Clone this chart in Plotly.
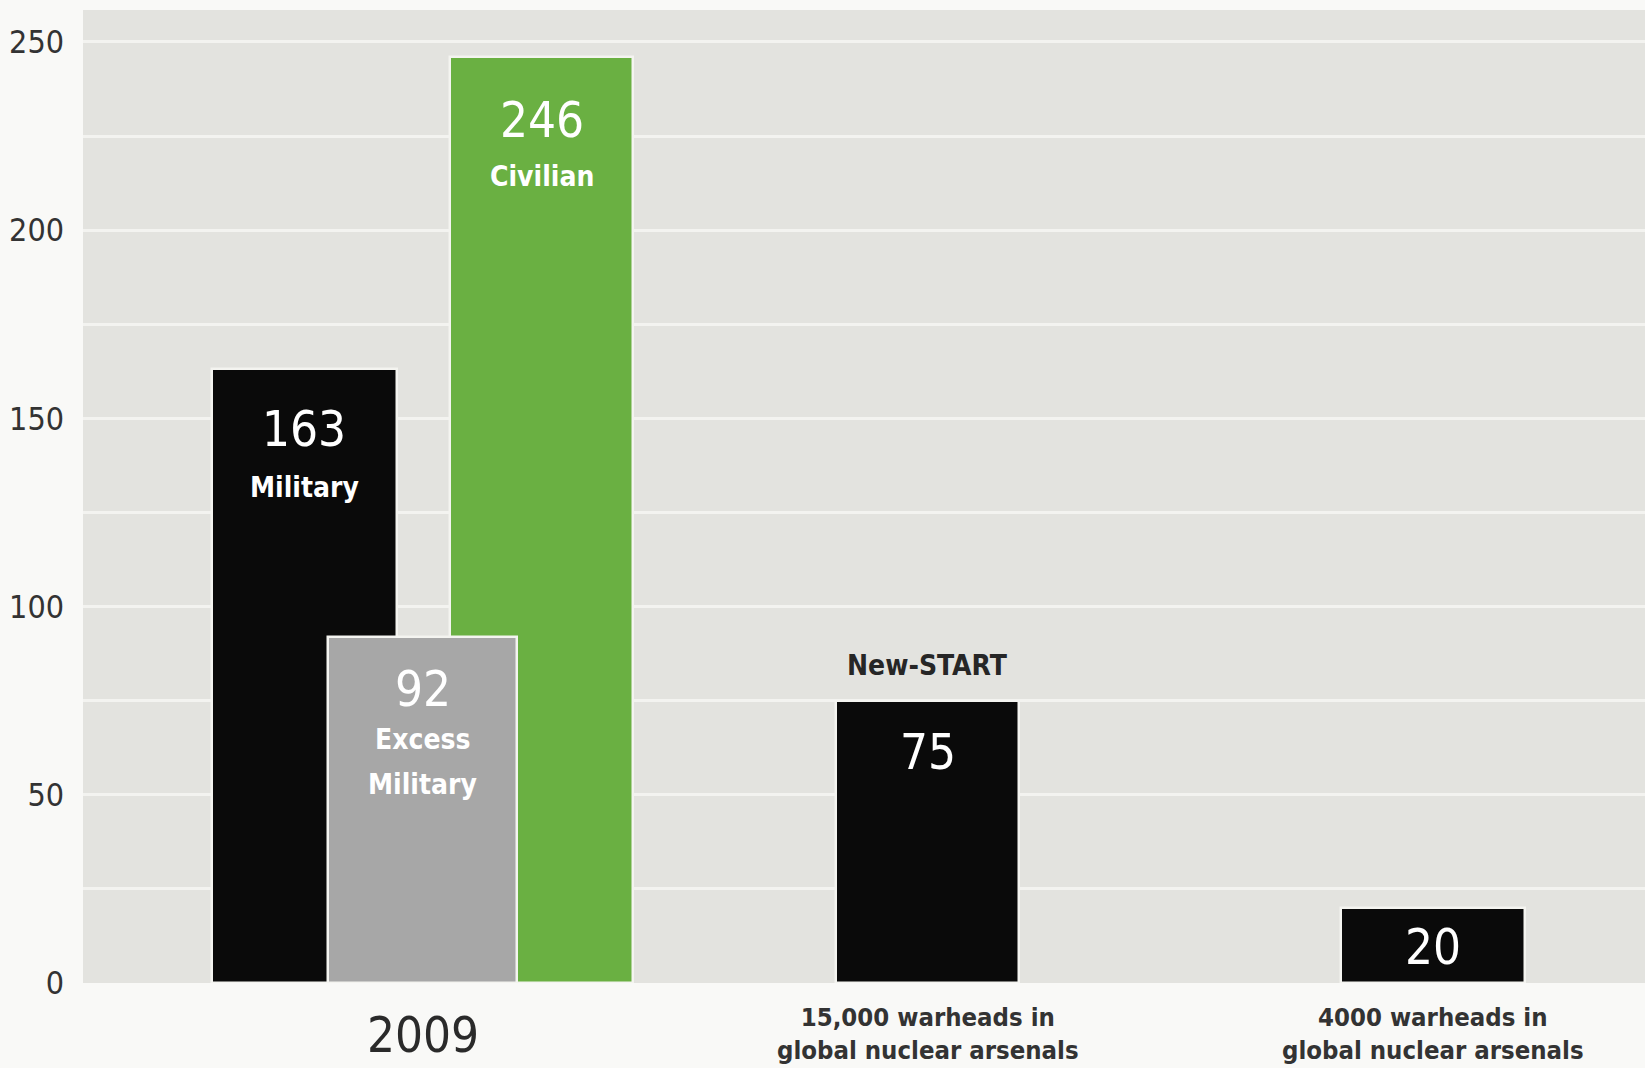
import plotly.graph_objects as go

# ---- data ----
categories = ["2009", "15,000 warheads in<br>global nuclear arsenals", "4000 warheads in<br>global nuclear arsenals"]
category_pos = [0, 1, 2]

bar_names = ["Military", "Civilian", "Excess Military", "New-START", "Reduced"]
bar_values = [163, 246, 92, 75, 20]
bar_category = [0, 0, 0, 1, 2]
bar_inside_labels = [["Military"], ["Civilian"], ["Excess", "Military"], [], []]
bar_above_labels = ["", "", "", "New-START", ""]

y_tickvals = [0, 50, 100, 150, 200, 250]

# ---- style ----
bar_offset = [-0.235, 0.235, 0.0, 0.0, 0.0]
bar_width = [0.366, 0.362, 0.374, 0.362, 0.364]
bar_colors = ["#0a0a0a", "#6ab042", "#a7a7a7", "#0a0a0a", "#0a0a0a"]
number_shift = [-60, -63, -53, -52, -40]
label_shifts = [[-118], [-119], [-103, -148], [], []]

FONT = "DejaVu Sans Condensed, Liberation Sans Narrow, Roboto Condensed, DejaVu Sans, sans-serif"

fig = go.Figure()
for i, name in enumerate(bar_names):
    fig.add_trace(go.Bar(
        x=[bar_category[i] + bar_offset[i]],
        y=[bar_values[i]],
        width=[bar_width[i]],
        name=name,
        marker=dict(color=bar_colors[i], line=dict(color="#f4f4f0", width=2.5)),
        hoverinfo="x+y+name",
        showlegend=False,
    ))

annotations = []
for i, v in enumerate(bar_values):
    x = bar_category[i] + bar_offset[i]
    annotations.append(dict(
        x=x, y=v, xref="x", yref="y", text=str(v), showarrow=False,
        yanchor="middle", yshift=number_shift[i],
        font=dict(family=FONT, size=49, color="#ffffff"),
    ))
    for line, sh in zip(bar_inside_labels[i], label_shifts[i]):
        annotations.append(dict(
            x=x, y=v, xref="x", yref="y", text="<b>" + line + "</b>", showarrow=False,
            yanchor="middle", yshift=sh,
            font=dict(family=FONT, size=28, color="#ffffff"),
        ))
    if bar_above_labels[i]:
        annotations.append(dict(
            x=x, y=v, xref="x", yref="y", text="<b>" + bar_above_labels[i] + "</b>",
            showarrow=False, yanchor="middle", yshift=35,
            font=dict(family=FONT, size=28, color="#262626"),
        ))

for pos, cat in zip(category_pos, categories):
    if "<br>" in cat:
        annotations.append(dict(
            x=pos, y=0, xref="x", yref="paper", text="<b>" + cat.replace("<br>", "</b><br><b>") + "</b>",
            showarrow=False, yanchor="middle", yshift=-50,
            font=dict(family=FONT, size=25.5, color="#333333"),
        ))
    else:
        annotations.append(dict(
            x=pos, y=0, xref="x", yref="paper", text=cat,
            showarrow=False, yanchor="middle", yshift=-52,
            font=dict(family=FONT, size=49, color="#2a2a2a"),
        ))

fig.update_layout(
    width=1645, height=1068,
    margin=dict(l=83, r=0, t=10, b=85),
    paper_bgcolor="#f9f9f7",
    plot_bgcolor="#e3e3df",
    barmode="overlay",
    bargap=0,
    annotations=annotations,
    xaxis=dict(range=[-0.673, 2.42], showgrid=False, zeroline=False,
               showticklabels=False, ticks="", fixedrange=True),
    yaxis=dict(range=[0, 258.5], tickvals=y_tickvals, showgrid=True,
               gridcolor="#f3f3f0", gridwidth=2.5, zeroline=False,
               ticks="", ticklabelstandoff=18,
               tickfont=dict(family=FONT, size=32, color="#333333"),
               minor=dict(dtick=25, tick0=0, showgrid=True, gridcolor="#f3f3f0", gridwidth=2.5)),
    font=dict(family=FONT),
)

fig.write_html("out.html")
